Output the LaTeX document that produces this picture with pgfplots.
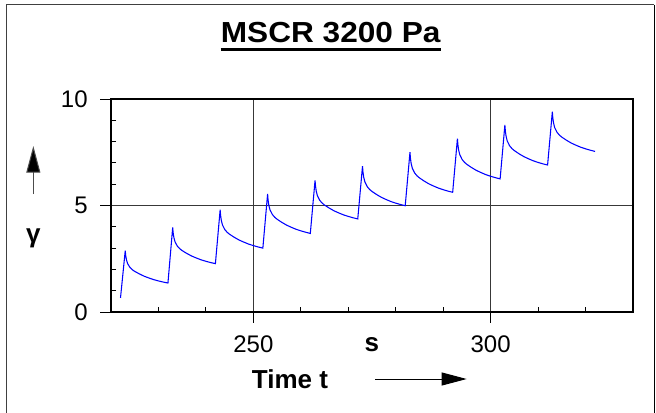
\documentclass[border=0pt]{standalone}
\usepackage{pgfplots}
\pgfplotsset{compat=1.18}
\usepackage{fontspec}
\setmainfont{Liberation Sans}
\usetikzlibrary{arrows.meta}
\begin{document}
\begin{tikzpicture}[x=1pt,y=1pt]
\useasboundingbox (0,0) rectangle (492,309);
% frame
\draw[line width=1.1pt, black!75] (5.0,-5) -- (5.0,305.5) -- (490.7,305.5);
\draw[line width=1.1pt, black] (490.7,305.5) -- (490.7,-5);
% title
\node[anchor=base, inner sep=0pt, font=\bfseries\fontsize{21.75}{24}\selectfont] (T) at (248,277) {\scalebox{1.09}[1]{MSCR 3200 Pa}};
\draw[line width=2.2pt] ([yshift=-5pt]T.base west) -- ([yshift=-5pt]T.base east);
\begin{axis}[
  at={(83.25pt,75pt)}, anchor=south west,
  scale only axis, width=391.5pt, height=159.75pt,
  xmin=220, xmax=330, ymin=0, ymax=10,
  xtick={250,300}, minor xtick={230,240,260,270,280,290,310,320},
  ytick={0,5,10}, minor ytick={1,2,3,4,6,7,8,9},
  xtick pos=left, ytick pos=left,
  tick align=outside,
  major tick length=8pt, minor tick length=-3.75pt,
  every tick/.style={black, line width=0.75pt},
  grid=major,
  major grid style={black!78, line width=0.9pt},
  axis line style={black, line width=0.8pt},
  /pgf/number format/assume math mode=true,
  ticklabel style={font=\fontsize{18}{20}\selectfont},
  xticklabel style={yshift=-6.5pt},
  yticklabel style={xshift=-6pt},
  clip=false,
]
\addplot[blue, line width=0.8pt, mark=none] coordinates {
(222,0.66) (223,2.88) (223.1,2.652) (223.25,2.454) (223.5,2.272) (224,2.090) (224.5,1.983) (225,1.907) (226,1.786) (227,1.679) (228,1.596) (229,1.520) (230,1.459) (231,1.406) (232,1.36)
(233,3.97) (233.1,3.715) (233.25,3.494) (233.5,3.29) (234,3.086) (234.5,2.967) (235,2.882) (236,2.746) (237,2.627) (238,2.534) (239,2.449) (240,2.381) (241,2.321) (242,2.27)
(243,4.80) (243.1,4.53) (243.25,4.296) (243.5,4.08) (244,3.864) (244.5,3.738) (245,3.648) (246,3.504) (247,3.378) (248,3.279) (249,3.189) (250,3.117) (251,3.054) (252,3.00)
(253,5.54) (253.1,5.263) (253.25,5.022) (253.5,4.80) (254,4.578) (254.5,4.449) (255,4.356) (256,4.208) (257,4.079) (258,3.977) (259,3.884) (260,3.81) (261,3.746) (262,3.69)
(263,6.18) (263.1,5.909) (263.25,5.673) (263.5,5.456) (264,5.239) (264.5,5.112) (265,5.022) (266,4.877) (267,4.75) (268,4.651) (269,4.56) (270,4.488) (271,4.424) (272,4.37)
(273,6.85) (273.1,6.571) (273.25,6.329) (273.5,6.106) (274,5.883) (274.5,5.753) (275,5.66) (276,5.511) (277,5.381) (278,5.278) (279,5.185) (280,5.111) (281,5.046) (282,4.99)
(283,7.50) (283.1,7.218) (283.25,6.974) (283.5,6.748) (284,6.522) (284.5,6.391) (285,6.297) (286,6.146) (287,6.015) (288,5.911) (289,5.817) (290,5.742) (291,5.676) (292,5.62)
(293,8.14) (293.1,7.857) (293.25,7.611) (293.5,7.384) (294,7.157) (294.5,7.025) (295,6.93) (296,6.779) (297,6.647) (298,6.543) (299,6.448) (300,6.373) (301,6.307) (302,6.25)
(303,8.78) (303.1,8.498) (303.25,8.254) (303.5,8.028) (304,7.802) (304.5,7.671) (305,7.577) (306,7.426) (307,7.295) (308,7.191) (309,7.097) (310,7.022) (311,6.956) (312,6.90)
(313,9.40) (313.1,9.121) (313.25,8.879) (313.5,8.656) (314,8.433) (314.5,8.303) (315,8.21) (316,8.061) (317,7.931) (318,7.828) (319,7.735) (320,7.661) (321,7.596) (322,7.54)
};
\end{axis}
% axis unit and names
\node[anchor=base, inner sep=0pt, font=\bfseries\fontsize{19.5}{22}\selectfont] at (278.8,45.2) {s};
\node[anchor=base, inner sep=0pt, font=\bfseries\fontsize{19.5}{22}\selectfont] at (217.5,17.8) {Time t};
\draw[line width=0.75pt, -{Triangle[length=18.75pt,width=9.75pt]}] (281.25,24.75) -- (350,24.75);
\draw[line width=0.75pt, black!70, -{Triangle[length=20pt,width=10.5pt,fill=black]}] (25,163.5) -- (25,199.5);
\node[anchor=base, inner sep=0pt, font=\bfseries\fontsize{19.5}{22}\selectfont] at (25,127) {γ};
\end{tikzpicture}
\end{document}
